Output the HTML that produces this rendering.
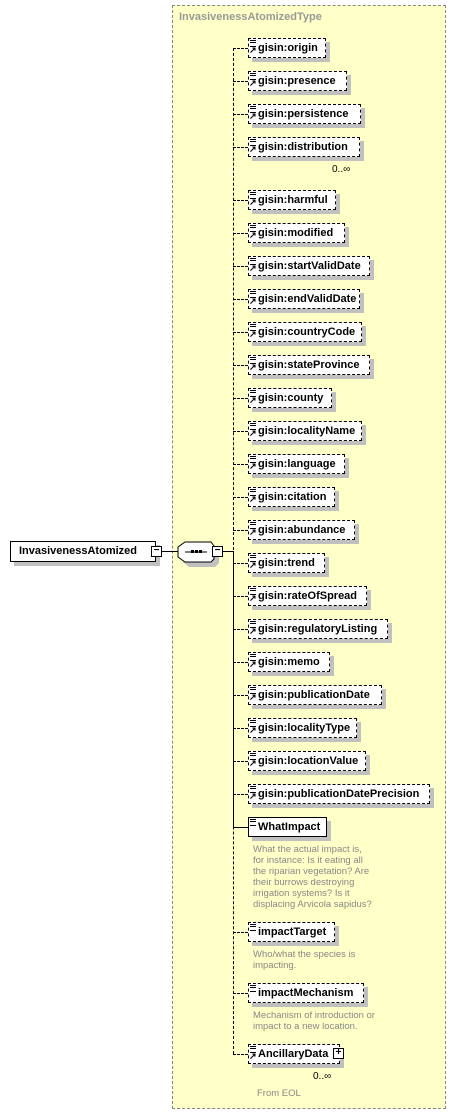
<!DOCTYPE html>
<html><head><meta charset="utf-8"><style>
body{margin:0;width:458px;height:1116px;background:#fff;position:relative;overflow:hidden;font-family:"Liberation Sans",Arial,sans-serif}
.t{position:absolute;left:172px;top:5px;width:274px;height:1104px;background:#ffffc8;border:1px dashed #888;box-sizing:border-box}
.tt{position:absolute;left:179px;top:11px;font-size:11px;font-weight:bold;color:#999}
.e{position:absolute;left:248px;height:20px;box-sizing:border-box;border:1px dashed #000;background:#fff;box-shadow:4px 4px 0 #c0c0c0;font-size:11px;font-weight:bold;line-height:18px;padding-left:9px;white-space:nowrap;color:#000}
.e.s{border-style:solid}
.e:before{content:"";position:absolute;left:1px;top:1px;width:6px;height:5px;border-top:1px solid #000;border-bottom:1px solid #000;background:linear-gradient(#fff 1px,#000 1px,#000 2px,#fff 2px)}
.e.r:after{content:"↗";position:absolute;left:0px;top:7px;font-size:9px;line-height:9px}
.h{position:absolute;left:233px;width:15px;border-top:1px dashed #000}
.hs{border-top-style:solid}
.v{position:absolute;left:233px;top:48px;height:1006px;border-left:1px dashed #000}
.d{position:absolute;left:253px;font-size:9.5px;color:#888;line-height:11px;width:122px}
.m{position:absolute;font-size:10px;color:#000}
.bx{position:absolute;width:9px;height:9px;border:1px solid #000;background:#fff;font-size:10px;line-height:8px;text-align:center;font-weight:bold}
</style></head><body>
<div class="t"></div>
<div class="tt">InvasivenessAtomizedType</div>
<div class="v"></div>
<div style="position:absolute;left:233px;top:551px;height:277px;border-left:1px solid #000"></div>

<div class="h" style="top:48px"></div><div class="e r" style="top:38px;width:78px">gisin:origin</div>
<div class="h" style="top:81px"></div><div class="e r" style="top:71px;width:99px">gisin:presence</div>
<div class="h" style="top:114px"></div><div class="e r" style="top:104px;width:113px">gisin:persistence</div>
<div class="h" style="top:147px"></div><div class="e r" style="top:137px;width:112px">gisin:distribution</div>
<div class="m" style="left:332px;top:164px">0..∞</div>
<div class="h" style="top:200px"></div><div class="e r" style="top:190px;width:88px">gisin:harmful</div>
<div class="h" style="top:233px"></div><div class="e r" style="top:223px;width:97px">gisin:modified</div>
<div class="h" style="top:266px"></div><div class="e r" style="top:256px;width:122px">gisin:startValidDate</div>
<div class="h" style="top:299px"></div><div class="e r" style="top:289px;width:112px">gisin:endValidDate</div>
<div class="h" style="top:332px"></div><div class="e r" style="top:322px;width:114px">gisin:countryCode</div>
<div class="h" style="top:365px"></div><div class="e r" style="top:355px;width:122px">gisin:stateProvince</div>
<div class="h" style="top:398px"></div><div class="e r" style="top:388px;width:84px">gisin:county</div>
<div class="h" style="top:431px"></div><div class="e r" style="top:421px;width:114px">gisin:localityName</div>
<div class="h" style="top:464px"></div><div class="e r" style="top:454px;width:97px">gisin:language</div>
<div class="h" style="top:497px"></div><div class="e r" style="top:487px;width:87px">gisin:citation</div>
<div class="h" style="top:530px"></div><div class="e r" style="top:520px;width:107px">gisin:abundance</div>
<div class="h" style="top:563px"></div><div class="e r" style="top:553px;width:77px">gisin:trend</div>
<div class="h" style="top:596px"></div><div class="e r" style="top:586px;width:119px">gisin:rateOfSpread</div>
<div class="h" style="top:629px"></div><div class="e r" style="top:619px;width:140px">gisin:regulatoryListing</div>
<div class="h" style="top:662px"></div><div class="e r" style="top:652px;width:82px">gisin:memo</div>
<div class="h" style="top:695px"></div><div class="e r" style="top:685px;width:134px">gisin:publicationDate</div>
<div class="h" style="top:728px"></div><div class="e r" style="top:718px;width:109px">gisin:localityType</div>
<div class="h" style="top:761px"></div><div class="e r" style="top:751px;width:118px">gisin:locationValue</div>
<div class="h" style="top:794px"></div><div class="e r" style="top:784px;width:182px">gisin:publicationDatePrecision</div>
<div class="h hs" style="top:827px"></div><div class="e s" style="top:817px;width:79px">WhatImpact</div>
<div class="d" style="top:844px">What the actual impact is, for instance: Is it eating all the riparian vegetation? Are their burrows destroying irrigation systems? Is it displacing Arvicola sapidus?</div>
<div class="h" style="top:932px"></div><div class="e" style="top:922px;width:87px">impactTarget</div>
<div class="d" style="top:949px">Who/what the species is impacting.</div>
<div class="h" style="top:993px"></div><div class="e" style="top:983px;width:116px">impactMechanism</div>
<div class="d" style="top:1010px">Mechanism of introduction or impact to a new location.</div>
<div class="h" style="top:1054px"></div><div class="e r" style="top:1044px;width:92px">AncillaryData</div>
<div class="bx" style="left:333px;top:1048px">+</div>
<div class="m" style="left:313px;top:1071px">0..∞</div>
<div class="d" style="left:257px;top:1088px">From EOL</div>

<div style="position:absolute;left:10px;top:541px;width:146px;height:21px;box-sizing:border-box;border:1px solid #000;background:#fff;box-shadow:4px 4px 0 #c0c0c0;font-size:11px;font-weight:bold;line-height:19px;padding-left:8px">InvasivenessAtomized</div>
<div class="bx" style="left:151px;top:546px">−</div>
<div style="position:absolute;left:162px;top:551px;width:18px;border-top:1px solid #000"></div>
<svg style="position:absolute;left:176px;top:540px" width="50" height="30">
<polygon points="10,4 36,4 40,8 40,20 36,24 10,24 4,19 4,9" fill="#c0c0c0" transform="translate(3,3)"/>
<polygon points="9,2 35,2 38,6 38,19 35,22 9,22 2,17 2,7" fill="#fff" stroke="#000"/>
<line x1="9" y1="12" x2="31" y2="12" stroke="#000"/>
<rect x="15" y="10" width="3" height="3" fill="#000"/><rect x="19" y="10" width="3" height="3" fill="#000"/><rect x="23" y="10" width="3" height="3" fill="#000"/>
</svg>
<div class="bx" style="left:212px;top:546px">−</div>
<div style="position:absolute;left:223px;top:551px;width:10px;border-top:1px solid #000"></div>
</body></html>
